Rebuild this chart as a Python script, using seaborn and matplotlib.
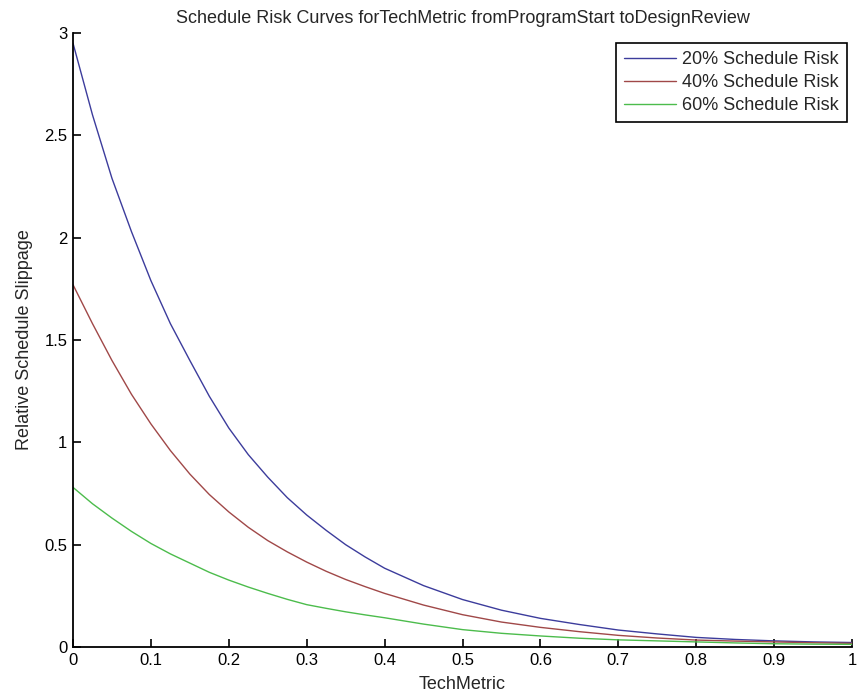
import numpy as np
import pandas as pd
import seaborn as sns
import matplotlib
matplotlib.use("Agg")
import matplotlib.pyplot as plt

# values
tech_metric = [0.000, 0.025, 0.050, 0.075, 0.100, 0.125, 0.150, 0.175, 0.200, 0.225,
               0.250, 0.275, 0.300, 0.325, 0.350, 0.375, 0.400, 0.45, 0.50, 0.55,
               0.60, 0.65, 0.70, 0.75, 0.80, 0.85, 0.90, 0.95, 1.00]
risk_20 = [2.95, 2.60, 2.29, 2.03, 1.79, 1.58, 1.40, 1.225, 1.07, 0.94,
           0.83, 0.73, 0.645, 0.57, 0.50, 0.44, 0.385, 0.30, 0.232, 0.18,
           0.14, 0.11, 0.083, 0.064, 0.047, 0.037, 0.030, 0.025, 0.022]
risk_40 = [1.77, 1.58, 1.40, 1.235, 1.09, 0.96, 0.845, 0.745, 0.66, 0.585,
           0.52, 0.465, 0.415, 0.37, 0.33, 0.295, 0.262, 0.205, 0.158, 0.122,
           0.096, 0.075, 0.057, 0.044, 0.034, 0.029, 0.025, 0.021, 0.018]
risk_60 = [0.78, 0.70, 0.63, 0.565, 0.506, 0.455, 0.41, 0.365, 0.327, 0.293,
           0.262, 0.233, 0.207, 0.189, 0.172, 0.157, 0.143, 0.112, 0.085, 0.067,
           0.054, 0.043, 0.035, 0.030, 0.025, 0.020, 0.016, 0.014, 0.013]
labels = ["20% Schedule Risk", "40% Schedule Risk", "60% Schedule Risk"]
colors = ["#3c3c9c", "#a04848", "#4cbc4c"]

sns.set_style("ticks")
plt.rcParams['font.family'] = ['Liberation Sans', 'DejaVu Sans']

fig = plt.figure(figsize=(8.62, 6.92), dpi=100)
ax = fig.add_axes([0.0847, 0.065, 0.9037, 0.8873])

for ys, lab, col in zip([risk_20, risk_40, risk_60], labels, colors):
    sns.lineplot(x=tech_metric, y=ys, ax=ax, color=col, linewidth=1.0, label=lab)

ax.set_xlim(0, 1)
ax.set_ylim(0, 3)
ax.set_xticks(np.arange(0, 1.01, 0.1))
ax.set_xticklabels(["0", "0.1", "0.2", "0.3", "0.4", "0.5", "0.6", "0.7", "0.8", "0.9", "1"])
ax.set_yticks(np.arange(0, 3.01, 0.5))
ax.set_yticklabels(["0", "0.5", "1", "1.5", "2", "2.5", "3"])
ax.tick_params(direction="in", length=6, width=1.2, labelsize=12, colors="black", pad=4)

for side in ["top", "right"]:
    ax.spines[side].set_visible(False)
for side in ["left", "bottom"]:
    ax.spines[side].set_color("black")
    ax.spines[side].set_linewidth(1.3)

ax.set_title("Schedule Risk Curves forTechMetric fromProgramStart toDesignReview",
             fontsize=13, pad=7)
ax.set_xlabel("TechMetric", fontsize=13, labelpad=6)
ax.set_ylabel("Relative Schedule Slippage", fontsize=13, labelpad=8)

leg = ax.legend(loc="upper right", bbox_to_anchor=(0.994, 0.984), fontsize=13,
                frameon=True, fancybox=False, handlelength=2.9, handletextpad=0.35,
                borderpad=0.45, labelspacing=0.33, borderaxespad=0)
leg.get_frame().set_edgecolor("black")
leg.get_frame().set_linewidth(1.2)
leg.get_frame().set_alpha(1)

fig.savefig("out.png", dpi=100)
